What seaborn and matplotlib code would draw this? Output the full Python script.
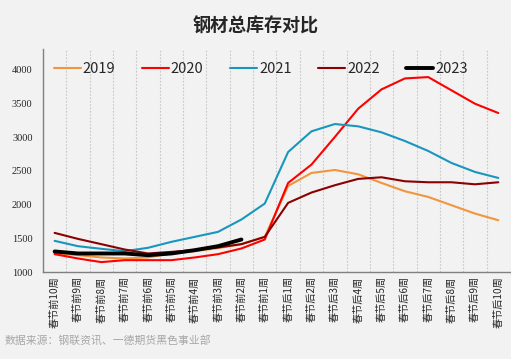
import matplotlib
matplotlib.use("Agg")
import matplotlib.pyplot as plt
from matplotlib.ticker import FixedLocator, MultipleLocator
import seaborn as sns
import pandas as pd

weeks = ['春节前10周', '春节前9周', '春节前8周', '春节前7周', '春节前6周',
         '春节前5周', '春节前4周', '春节前3周', '春节前2周', '春节前1周',
         '春节后1周', '春节后2周', '春节后3周', '春节后4周', '春节后5周',
         '春节后6周', '春节后7周', '春节后8周', '春节后9周', '春节后10周']

y2019 = [1276, 1251, 1217, 1202, 1217, 1276, 1310, 1355, 1414, 1522,
         2276, 2468, 2512, 2448, 2320, 2197, 2113, 1990, 1867, 1768]
y2020 = [1266, 1202, 1148, 1177, 1177, 1177, 1217, 1266, 1350, 1483,
         2320, 2592, 3000, 3419, 3705, 3867, 3887, 3690, 3493, 3355]
y2021 = [1463, 1384, 1345, 1310, 1360, 1448, 1522, 1596, 1779, 2015,
         2778, 3084, 3192, 3158, 3069, 2941, 2793, 2615, 2483, 2394]
y2022 = [1581, 1492, 1414, 1335, 1276, 1300, 1325, 1365, 1414, 1522,
         2025, 2178, 2286, 2380, 2404, 2345, 2330, 2330, 2300, 2330]
y2023 = [1306, 1276, 1276, 1276, 1251, 1276, 1325, 1384, 1483]

series = {'2019': y2019, '2020': y2020, '2021': y2021, '2022': y2022, '2023': y2023}
colors = {'2019': '#F0963C', '2020': '#FF0000', '2021': '#1996BE',
          '2022': '#8B0000', '2023': '#000000'}
widths = {'2019': 1.5, '2020': 1.5, '2021': 1.5, '2022': 1.5, '2023': 2.8}

rows = []
for yr, vals in series.items():
    for i, v in enumerate(vals):
        rows.append({'week': weeks[i], 'pos': i, 'year': yr, 'value': v})
df = pd.DataFrame(rows)

sns.set_style("white")
plt.rcParams['font.family'] = ['Noto Sans CJK SC', 'DejaVu Sans']

bg = '#F2F2F2'
fig = plt.figure(figsize=(5.11, 3.59), dpi=100, facecolor=bg)
ax = fig.add_axes([0.084, 0.242, 0.914, 0.621], facecolor=bg)

sns.lineplot(data=df, x='pos', y='value', hue='year', size='year',
             palette=colors, sizes=widths, ax=ax, legend=False)

ax.set_xlim(-0.5, len(weeks) - 0.5)
ax.set_ylim(1000, 4300)
ax.yaxis.set_major_locator(MultipleLocator(500))
ax.set_xticks(range(len(weeks)))
ax.set_xticklabels(weeks, rotation=90, fontsize=7.3, va='top')
ax.xaxis.set_minor_locator(FixedLocator([i + 0.5 for i in range(-1, len(weeks))]))
ax.tick_params(axis='x', which='major', length=0, pad=3)
ax.tick_params(axis='x', which='minor', length=4, color='#808080', width=1)
ax.tick_params(axis='y', length=4, color='#808080', width=1, labelsize=7.5)
for lab in ax.get_yticklabels():
    lab.set_family(['Liberation Serif', 'DejaVu Serif'])
ax.grid(True, which='minor', axis='x', linestyle=(0, (1.5, 1.5)), color='#C8C8C8', linewidth=0.8)
ax.set_xlabel('')
ax.set_ylabel('')
for s in ['top', 'right']:
    ax.spines[s].set_visible(False)
for s in ['left', 'bottom']:
    ax.spines[s].set_color('#808080')
    ax.spines[s].set_linewidth(1)

handles = [plt.Line2D([], [], color=colors[y], lw=widths[y]) for y in series]
ax.legend(handles, list(series), loc='upper left', bbox_to_anchor=(-0.005, 1.0),
          ncol=5, frameon=False, fontsize=10.5, handlelength=1.85,
          handletextpad=0.15, columnspacing=1.8)

fig.text(0.5, 0.927, '钢材总库存对比', ha='center', va='center',
         fontsize=13, fontweight='bold')
fig.text(0.008, 0.052, '数据来源：钢联资讯、一德期货黑色事业部', ha='left', va='center',
         fontsize=7.8, color='#A6A6A6')

fig.savefig('out.png', dpi=100, facecolor=bg)
